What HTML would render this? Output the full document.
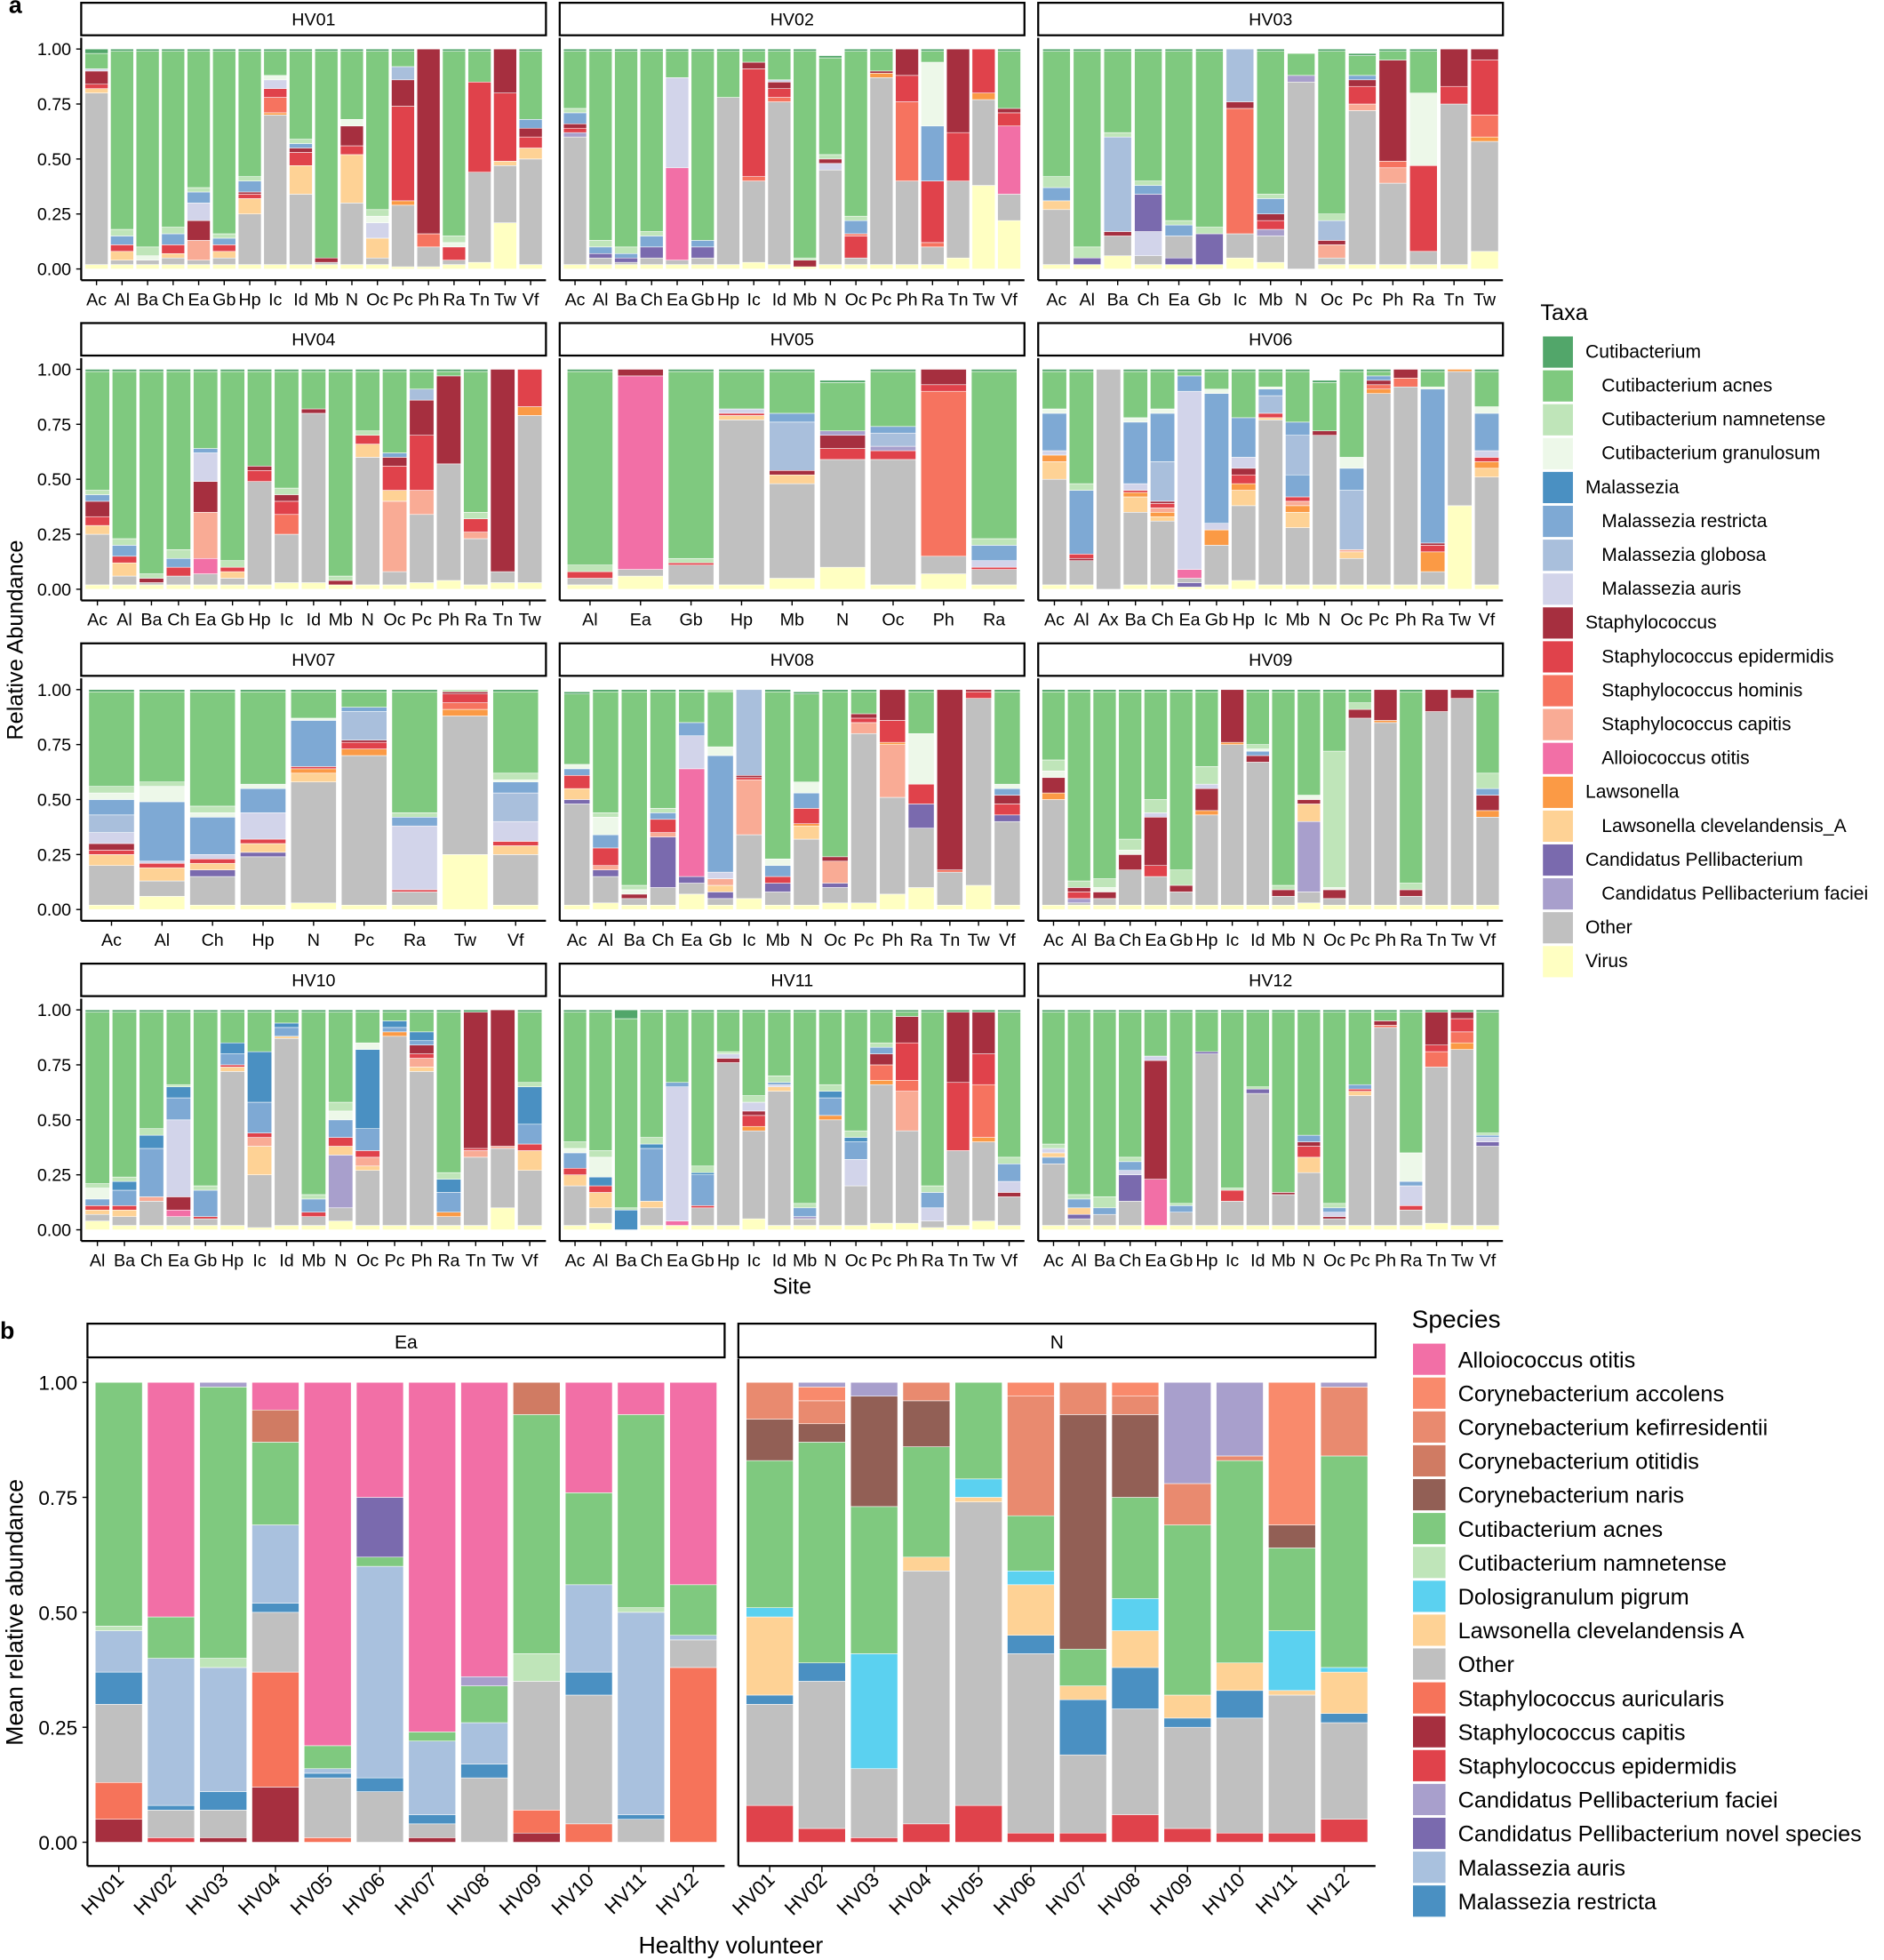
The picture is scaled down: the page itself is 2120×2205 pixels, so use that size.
<!DOCTYPE html>
<html><head><meta charset="utf-8">
<style>html,body{margin:0;padding:0;background:#fff}svg{display:block}text{font-family:"Liberation Sans Narrow","Liberation Sans",sans-serif}</style>
</head><body>
<svg id="s" xmlns="http://www.w3.org/2000/svg" width="2120" height="2205" viewBox="0 0 1508 1568"></svg>
<script>
const S=document.getElementById('s');let h='';
const col={C:'#52a66a',A:'#7fc97f',N:'#bfe5b9',K:'#edf8e9',M:'#4a90c2',R:'#7ea9d4',G:'#a9bfdc',U:'#d2d4ea',S:'#a62f3f',E:'#e0424b',H:'#f6735f',P:'#f9ab95',L:'#f26fa6',W:'#fb9a45',X:'#fed295',D:'#7a6aae',F:'#a89fcc',O:'#c0c0c0',V:'#ffffc2'};
function R(x,y,w,hh,f,extra){h+=`<rect x="${x.toFixed(2)}" y="${y.toFixed(2)}" width="${w.toFixed(2)}" height="${Math.max(0,hh).toFixed(2)}" fill="${f}" ${extra||''}/>`;}
function T(x,y,t,sz,anc,extra){h+=`<text x="${x}" y="${y}" font-size="${sz}" text-anchor="${anc||'start'}" ${extra||''}>${t}</text>`;}
const P=[
["HV01","Ac Al Ba Ch Ea Gb Hp Ic Id Mb N Oc Pc Ph Ra Tn Tw Vf",[
"V2 O80 X82 E84 S90 U91 A98 C100","V2 O4 X8 E11 R15 N18 A99 C100","V2 O4 K6 N10 A99 C100","V2 O5 X7 E11 R16 N19 A99 C100","V2 O4 P13 S22 U30 R35 N37 A99 C100","V2 O5 X8 E11 R14 N16 A99 C100","V2 O25 X32 E34 S35 R40 N42 A99 C100","V2 O70 W71 H78 E82 U86 K88 A99 C100","V2 O34 X47 E53 S55 R57 N59 A99 C100","V2 O3 S5 A99 C100","V2 O30 X52 E56 S65 K68 A99 C100","V2 O5 X14 U21 K24 N27 A99 C100","V1 O29 W31 E74 S86 G92 A99 C100","V1 O10 H16 S100","V2 O4 E10 K12 N15 A99 C100","V3 O44 E85 A99 C100","V21 O47 X49 E80 S100","V2 O50 X55 E60 S64 R68 A99 C100"]],
["HV02","Ac Al Ba Ch Ea Gb Hp Ic Id Mb N Oc Pc Ph Ra Tn Tw Vf",[
"V2 O60 F62 E64 S66 R71 N73 A99 C100","V2 O5 D7 R10 N13 A99 C100","V2 O3 D5 R7 N10 A99 C100","V2 O5 D10 R15 N17 A99 C100","V2 O4 L46 U87 A99 C100","V2 O5 D10 R13 A99 C100","V2 O78 A99 C100","V3 O40 H42 E91 S94 A99 C100","V2 O76 H78 E82 S85 U86 A99 C100","V1 S4 N5 A99 C100","V2 O45 U48 S50 N52 A96 C97","V2 O5 E15 H16 R22 N24 A99 C100","V2 O87 W89 S90 A99 C100","V2 O40 H76 E88 S100","V2 O10 H12 E40 R65 K94 A99 C100","V5 O40 E62 S100","V38 O77 W80 E100","V22 O34 L65 E71 S73 A99 C100"]],
["HV03","Ac Al Ba Ch Ea Gb Ic Mb N Oc Pc Ph Ra Tn Tw",[
"V2 O27 X31 R37 N42 A99 C100","V2 D5 N10 A99 C100","V6 O15 S17 G60 N62 A99 C100","V2 O6 U17 D34 R38 N40 A99 C100","V2 D5 O15 R20 N22 A99 C100","V2 D16 N19 A99 C100","V5 O16 H73 S76 G100","V3 O15 F18 E22 S25 R32 N34 A99 C100","O85 F88 A98","V2 O5 P11 S13 G22 N25 A99 C100","V2 O72 P75 E83 S86 R88 A97 C98","V2 O39 P46 H49 S95 A99 C100","V2 O8 E47 K80 A99 C100","V2 O75 E83 S100","V8 O58 W60 H70 E95 S100"]],
["HV04","Ac Al Ba Ch Ea Gb Hp Ic Id Mb N Oc Pc Ph Ra Tn Tw",[
"V2 O25 X29 E33 S40 R43 N45 A99 C100","V2 O6 X12 E15 R20 N23 A99 C100","V2 O3 S5 N7 A99 C100","V2 O6 E10 R14 N18 A99 C100","V2 O7 L14 P35 S49 U62 R64 A99 C100","V2 O5 X8 E10 N13 A99 C100","V2 O49 E54 S56 A99 C100","V3 O25 H34 E40 S43 N46 A99 C100","V3 O80 S82 A99 C100","V2 S4 N6 A99 C100","V2 O60 X66 E70 N72 A99 C100","V2 O8 P40 X45 E56 S60 R62 A99 C100","V3 O34 P45 E70 S86 G91 A99 C100","V4 O57 S97 A99 C100","V2 O23 P26 E32 N35 A99 C100","V3 O8 S100","V3 O79 W83 E100"]],
["HV05","Al Ea Gb Hp Mb N Oc Ph Ra",[
"V2 O5 E8 N11 A99 C100","V6 O9 L97 S100","V2 O11 E12 N14 A99 C100","V2 O77 X79 E80 U82 A99 C100","V5 O48 X52 S54 G76 R80 A99 C100","V10 O59 E64 S70 F72 A94 C95","V2 O59 E63 F65 G71 R74 A99 C100","V7 O15 H90 E93 S100","V2 O9 E10 U13 R20 N23 A99 C100"]],
["HV06","Ac Al Ax Ba Ch Ea Gb Hp Ic Mb N Oc Pc Ph Ra Tw Vf",[
"V2 O50 X58 W61 U63 R80 K82 A99 C100","V2 O13 S14 E16 R45 N48 A99 C100","O100","V2 O35 X42 W44 E45 U48 R76 K78 A99 C100","V2 O31 X33 W35 P37 E39 S40 G58 R80 K82 A99 C100","V1 D3 O5 L9 U90 R97 A99 C100","V2 O20 W27 U30 R89 K91 A99 C100","V4 O38 X45 W48 E52 S55 U60 R78 A99 C100","V2 O77 X78 E80 G88 R91 K92 A99 C100","V2 O28 X35 W38 P40 E42 R52 G70 R76 A99 C100","V2 O70 S72 A94 C95","V2 O14 X17 P18 G45 R55 K60 A99 C100","V2 O89 W91 H93 S95 R97 A99 C100","V2 O92 H96 S100","V2 O8 W17 E20 S21 R91 K92 A99 C100","V38 O99 W100","V2 O51 X55 W58 E60 U63 R80 K83 A99 C100"]],
["HV07","Ac Al Ch Hp N Pc Ra Tw Vf",[
"V2 O20 X25 E27 S30 U35 G43 R50 K53 N56 A99 C100","V6 O13 X19 E21 U22 R49 K56 N58 A99 C100","V2 O15 D18 X21 E23 U25 R42 K44 N47 A99 C100","V2 O24 D26 X30 E32 U44 R55 K57 A99 C100","V3 O58 X62 W64 E65 R86 K87 A99 C100","V2 O70 W73 E76 S77 G90 R92 A99 C100","V2 O8 E9 U38 R42 N44 A99 C100","V25 O88 W91 H94 E98 S99 N100","V2 O25 X29 E31 U40 G53 R58 K59 N62 A99 C100"]],
["HV08","Ac Al Ba Ch Ea Gb Ic Mb N Oc Pc Ph Ra Tn Tw Vf",[
"V2 O48 D50 X55 E61 R64 K66 A98 C99","V3 O15 D18 P20 E28 R34 K42 N44 A99 C100","V2 O5 S7 K9 N11 A99 C100","V2 O10 D33 P35 E41 R44 N46 A99 C100","V7 O12 D15 L64 U79 R85 A99 C100","V2 O5 D8 X11 P14 U17 R70 K74 A99 N100","V5 O34 P59 E60 S61 G100","V2 O8 D12 E15 R20 K23 A99 C100","V2 O32 X38 W39 E46 R53 K58 A98 C99","V3 O10 D12 P22 S24 A99 C100","V3 O80 P85 E87 S89 A99 C100","V7 O51 P75 W76 E86 S100","V10 O37 D48 E57 K80 A99 C100","V2 O17 H18 S100","V11 O96 E99 S100","V2 O40 D43 E48 S52 R55 K57 A99 C100"]],
["HV09","Ac Al Ba Ch Ea Gb Hp Ic Id Mb N Oc Pc Ph Ra Tn Tw Vf",[
"V2 O50 W53 S60 K63 N68 A99 C100","V2 O3 F5 E8 S10 N13 A99 C100","V2 O5 S8 K10 N14 A99 C100","V2 O18 S25 K27 N32 A99 C100","V2 O15 E20 S42 U44 N50 A99 C100","V2 O8 S11 N18 A99 C100","V2 O43 W45 S55 U57 N65 A99 C100","V2 O75 W76 S100","V2 O67 S70 R72 K73 N75 A99 C100","V2 O6 S9 N11 A99 C100","V3 O8 F40 X48 S50 K52 A99 C100","V2 O5 S9 K10 N72 A99 C100","V2 O87 S91 N94 A99 C100","V2 O85 W86 S100","V2 O6 S9 N12 A99 C100","V2 O90 S100","V2 O96 S100","V2 O42 W45 S52 R55 N62 A99 C100"]],
["HV10","Al Ba Ch Ea Gb Hp Ic Id Mb N Oc Pc Ph Ra Tn Tw Vf",[
"V4 O7 X9 E11 R14 K19 N21 A99 C100","V2 O6 X9 E11 R18 M22 N24 A99 C100","V2 O13 P15 R37 M43 N46 A99 C100","V2 O6 L9 S15 U50 R60 M65 N66 A99 C100","V2 O5 E6 R18 N20 A99 C100","V2 O72 X74 E75 R80 M85 A99 C100","V1 O25 X38 P42 E44 R58 M81 A99 C100","V2 O87 X88 R92 M94 A99 C100","V2 O6 E8 R14 N16 A99 C100","V4 O10 F34 X38 E42 R50 K54 N58 A99 C100","V2 O27 X29 P33 E36 R46 M82 K85 A99 C100","V2 O88 W90 R92 M95 A99 C100","V2 O72 X74 P78 E80 S84 R86 M90 A99 C100","V2 O6 W8 R17 M23 N26 A99 C100","V2 O33 P36 E37 S99 C100","V10 O37 P38 S100","V2 O27 X36 E39 R48 M65 N67 A99 C100"]],
["HV11","Ac Al Ba Ch Ea Gb Hp Ic Id Mb N Oc Pc Ph Ra Tn Tw Vf",[
"V2 O20 X25 E28 R35 K37 N40 A99 C100","V3 O10 X17 E20 M24 K33 N36 A99 C100","M9 N10 A96 C100","V2 O10 X13 R37 M39 N42 A99 C100","V2 L4 U65 R67 A99 C100","V2 O10 E11 R25 M26 N29 A99 C100","V2 O76 S78 U80 N81 A99 C100","V5 O45 W47 E52 S54 U58 N61 A99 C100","V2 O63 X65 U66 R67 N70 A99 C100","V2 O5 F6 R10 N12 A99 C100","V2 O50 W52 R60 M63 N66 A99 C100","V2 O20 U32 R40 M42 N45 A99 C100","V3 O66 W68 H75 S80 R83 N85 A99 C100","V3 O45 P63 H68 E85 S97 A99 C100","V1 O4 U10 R17 N20 A99 C100","V2 O36 E67 S99 C100","V4 O40 W42 H66 E80 S99 C100","V2 O15 S17 U22 R30 N33 A99 C100"]],
["HV12","Ac Al Ba Ch Ea Gb Hp Ic Id Mb N Oc Pc Ph Ra Tn Tw Vf",[
"V2 O30 R33 X35 U37 N39 A99 C100","V2 O5 D7 X10 R14 N16 A99 C100","V2 O7 R10 N15 A99 C100","V2 O13 D25 U27 R31 N33 A99 C100","V2 L23 S77 U79 A99 C100","V2 O8 R11 N12 A99 C100","V2 O80 D81 A99 C100","V2 O13 E18 N19 A99 C100","V2 O62 D64 N65 A99 C100","V2 O16 S17 A99 C100","V2 O26 X33 E38 S40 R43 A99 C100","V2 O5 S6 U8 R10 N12 A99 C100","V2 O61 X63 E64 R66 A99 C100","V2 O92 H93 S95 A99 C100","V2 O9 E11 U20 R22 K35 A99 C100","V3 O74 H81 E84 S99 C100","V2 O82 W85 H90 E96 S99 C100","V2 O38 D40 U42 R43 N44 A99 C100"]]
];
const colsX=[65,448,831],PW=372;
P.forEach((p,idx)=>{
 const r=Math.floor(idx/3),c=idx%3;const x0=colsX[c];const top=2+256.3*r;
 const y0=top+213,y1=top+37,U=y0-y1;
 // strip
 R(x0,top,PW,26,'#fff','stroke="#000" stroke-width="1.6"');
 T(x0+PW/2,top+18,p[0],14,'middle');
 const labs=p[1].split(' '),n=labs.length,u=PW/(n+0.2),bw=u*0.9;
 p[2].forEach((b,i)=>{
  const cx=x0+(i+0.6)*u;let prev=0;
  b.split(' ').forEach(s=>{const k=s[0],v=parseFloat(s.slice(1));
   R(cx-bw/2,y0-v/100*U,bw,(v-prev)/100*U,col[k],'stroke="#fff" stroke-width="0.4"');prev=v;});
  h+=`<line x1="${cx}" x2="${cx}" y1="${top+222}" y2="${top+226}" stroke="#000" stroke-width="1"/>`;
  T(cx,top+242,labs[i],14,'middle');
 });
 h+=`<line x1="${x0}" x2="${x0+PW}" y1="${top+222}" y2="${top+222}" stroke="#000" stroke-width="1.6"/>`;
 h+=`<line x1="${x0}" x2="${x0}" y1="${top+28}" y2="${top+222}" stroke="#000" stroke-width="1.6"/>`;
 if(c==0){[0,.25,.5,.75,1].forEach(v=>{const y=y0-v*U;T(x0-8,y+5,v.toFixed(2),14,'end');h+=`<line x1="${x0-4}" x2="${x0}" y1="${y}" y2="${y}" stroke="#000"/>`;});}
});
T(7,10,'a',19,'start','font-weight="bold" font-family="Liberation Sans"');
T(0,0,'Relative Abundance',18,'middle','transform="translate(18,512) rotate(-90)"');
T(634,1035,'Site',18,'middle');
// legend a
const la=[['C','Cutibacterium',0],['A','Cutibacterium acnes',1],['N','Cutibacterium namnetense',1],['K','Cutibacterium granulosum',1],['M','Malassezia',0],['R','Malassezia restricta',1],['G','Malassezia globosa',1],['U','Malassezia auris',1],['S','Staphylococcus',0],['E','Staphylococcus epidermidis',1],['H','Staphylococcus hominis',1],['P','Staphylococcus capitis',1],['L','Alloiococcus otitis',1],['W','Lawsonella',0],['X','Lawsonella clevelandensis_A',1],['D','Candidatus Pellibacterium',0],['F','Candidatus Pellibacterium faciei',1],['O','Other',0],['V','Virus',0]];
T(1233,256,'Taxa',18);
la.forEach((l,i)=>{const y=269+27.1*i;R(1235,y,24,25,col[l[0]]);T(l[2]?1282:1269,y+17,l[1],15);});
// panel b
const cb={al:'#f26fa6',ac:'#f98a6c',ke:'#e98a6f',ot:'#d07b63',na:'#925f55',cu:'#7fc97f',nm:'#bfe5b9',do:'#5bd1f0',la:'#fed295',o:'#c0c0c0',sa:'#f6735a',sc:'#a62f3f',se:'#e0424b',fa:'#a89fcc',nv:'#7a6aae',au:'#a9c1de',re:'#4a90c2'};
const B=[[
"sc5 sa13 o30 re37 au46 nm47 cu100","se1 o7 re8 au40 cu49 al100","sc1 o7 re11 au38 nm40 cu99 fa100","sc12 sa37 o50 re52 au69 cu87 ot94 al100","sa1 o14 re15 au16 cu21 al100","o11 re14 au60 cu62 nv75 al100","sc1 o4 re6 au22 cu24 al100","o14 re17 au26 cu34 fa36 al100","sc2 sa7 o35 nm41 cu93 ot100","sa4 o32 re37 au56 cu76 al100","o5 re6 au50 nm51 cu93 al100","sa38 o44 au45 cu56 al100"],[
"se8 o30 re32 la49 do51 cu83 na92 ke100","se3 o35 re39 cu87 na91 ke96 ac99 fa100","se1 o16 do41 cu73 na97 fa100","se4 o59 la62 cu86 na96 ke100","se8 o74 la75 do79 cu100","se2 o41 re45 la56 do59 cu71 ke97 ac100","se2 o19 re31 la34 cu42 na93 ke100","se6 o29 re38 la46 do53 cu75 na93 ke97 ac100","se3 o25 re27 la32 cu69 ke78 fa100","se2 o27 re33 la39 cu83 ke84 fa100","se2 o32 la33 do46 cu64 na69 ac100","se5 o26 re28 la37 do38 cu84 ke99 fa100"]];
['Ea','N'].forEach((nm,f)=>{
 const x0=f?591:70,W=510,y0=1474,U=368,u=W/12.2,bw=u*0.9;
 R(x0,1059,W,27,'#fff','stroke="#000" stroke-width="1.6"');T(x0+W/2,1079,nm,15,'middle');
 B[f].forEach((b,i)=>{const cx=x0+(i+0.6)*u;let prev=0;
  b.split(' ').forEach(s=>{const k=s.match(/[a-z]+/)[0],v=parseFloat(s.slice(k.length));
   R(cx-bw/2,y0-v/100*U,bw,(v-prev)/100*U,cb[k],'stroke="#fff" stroke-width="0.4"');prev=v;});
  h+=`<line x1="${cx}" x2="${cx}" y1="1493" y2="1498" stroke="#000"/>`;
  const lab='HV'+String(i+1).padStart(2,'0');
  T(0,0,lab,16,'end',`transform="translate(${cx+5},${1505}) rotate(-45)"`);
 });
 h+=`<line x1="${x0}" x2="${x0+W}" y1="1493" y2="1493" stroke="#000" stroke-width="1.6"/>`;
 h+=`<line x1="${x0}" x2="${x0}" y1="1087" y2="1493" stroke="#000" stroke-width="1.6"/>`;
 if(!f){[0,.25,.5,.75,1].forEach(v=>{const y=y0-v*U;T(x0-8,y+6,v.toFixed(2),16,'end');h+=`<line x1="${x0-4}" x2="${x0}" y1="${y}" y2="${y}" stroke="#000"/>`;});}
});
T(0,1071,'b',19,'start','font-weight="bold" font-family="Liberation Sans"');
T(0,0,'Mean relative abundance',19,'middle','transform="translate(18,1290) rotate(-90)"');
T(585,1563,'Healthy volunteer',19,'middle');
const lb=[['al','Alloiococcus otitis'],['ac','Corynebacterium accolens'],['ke','Corynebacterium kefirresidentii'],['ot','Corynebacterium otitidis'],['na','Corynebacterium naris'],['cu','Cutibacterium acnes'],['nm','Cutibacterium namnetense'],['do','Dolosigranulum pigrum'],['la','Lawsonella clevelandensis A'],['o','Other'],['sa','Staphylococcus auricularis'],['sc','Staphylococcus capitis'],['se','Staphylococcus epidermidis'],['fa','Candidatus Pellibacterium faciei'],['nv','Candidatus Pellibacterium novel species'],['au','Malassezia auris'],['re','Malassezia restricta']];
T(1130,1062,'Species',20);
lb.forEach((l,i)=>{const y=1075+27.1*i;R(1131,y,26,25,cb[l[0]]);T(1167,y+19,l[1],18);});
S.innerHTML=h;
</script>
</body></html>
